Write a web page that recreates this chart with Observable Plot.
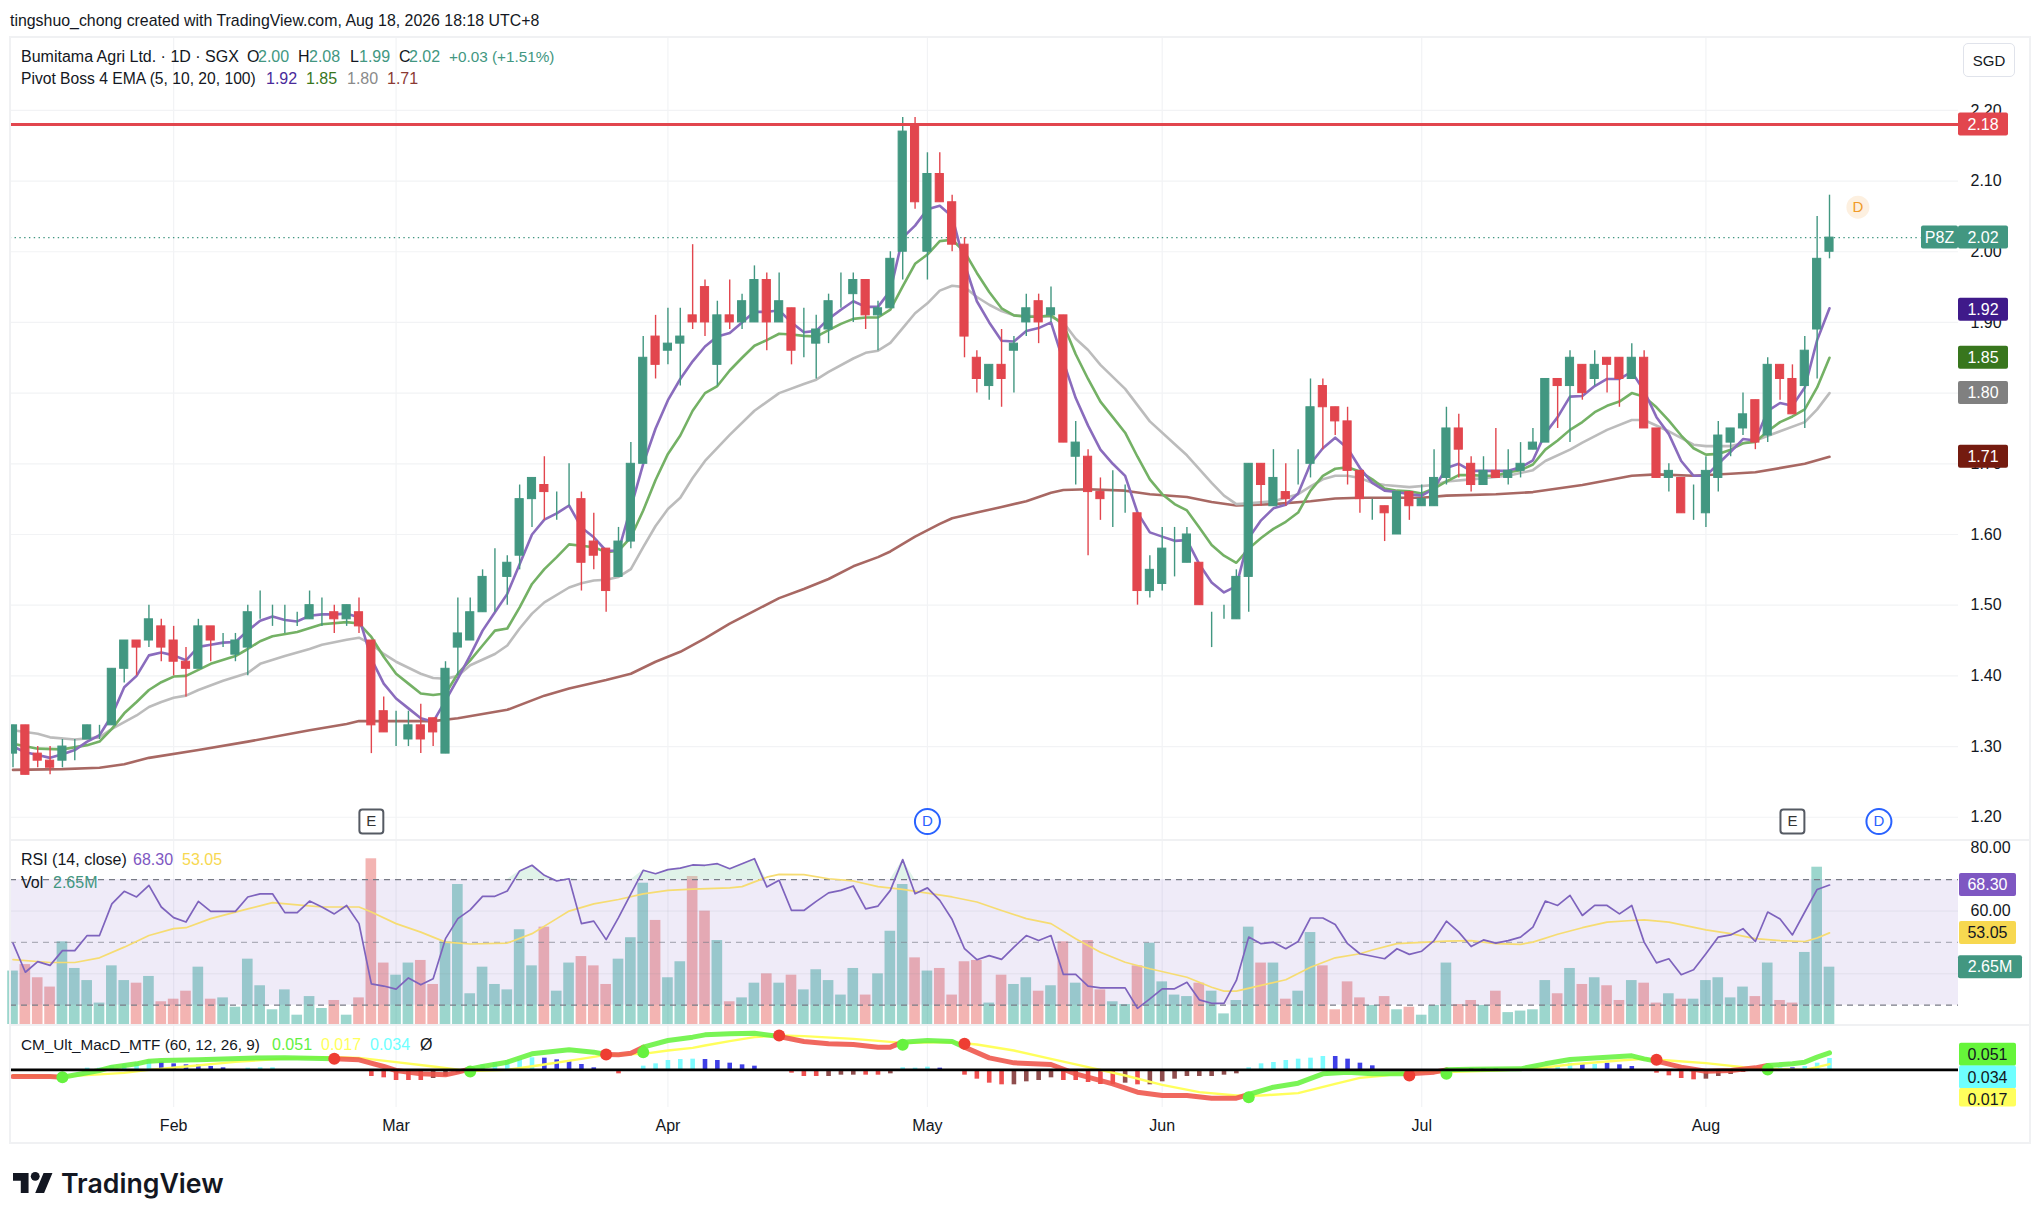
<!DOCTYPE html>
<html><head><meta charset="utf-8">
<script src="https://cdn.jsdelivr.net/npm/d3@7"></script>
<script src="https://cdn.jsdelivr.net/npm/@observablehq/plot@0.6"></script>
<style>
html,body{margin:0;padding:0;background:#fff;width:2042px;height:1214px;overflow:hidden}
body{font-family:"Liberation Sans",Arial,sans-serif;color:#131722;position:relative}
#root{position:absolute;left:0;top:0;width:2042px;height:1214px}
#root svg{position:absolute;left:0;overflow:visible}
.t{position:absolute;font-size:16px;line-height:20px;white-space:nowrap}
.line{position:absolute;background:#f0f1f3}
</style></head><body><div id="root"></div>
<script>
const opens=[1.29,1.33,1.29,1.28,1.28,1.30,1.31,1.33,1.33,1.41,1.45,1.45,1.47,1.45,1.42,1.41,1.47,1.45,1.43,1.44,1.50,1.50,1.47,1.47,1.48,1.49,1.49,1.48,1.49,1.45,1.35,1.31,1.31,1.33,1.34,1.29,1.44,1.45,1.49,1.54,1.54,1.57,1.65,1.67,1.65,1.66,1.65,1.59,1.58,1.54,1.59,1.70,1.88,1.86,1.87,1.91,1.95,1.84,1.91,1.90,1.90,1.96,1.90,1.92,1.86,1.87,1.89,1.94,1.94,1.96,1.91,1.92,2.00,2.18,2.00,2.11,2.07,2.01,1.85,1.81,1.84,1.86,1.90,1.93,1.91,1.91,1.71,1.71,1.66,1.65,1.65,1.63,1.52,1.53,1.58,1.56,1.56,1.48,1.48,1.48,1.54,1.70,1.64,1.66,1.68,1.70,1.81,1.78,1.76,1.69,1.64,1.64,1.60,1.66,1.64,1.64,1.68,1.75,1.70,1.67,1.69,1.68,1.69,1.72,1.73,1.82,1.81,1.84,1.82,1.85,1.85,1.82,1.85,1.75,1.68,1.68,1.64,1.63,1.68,1.73,1.75,1.79,1.74,1.84,1.82,1.81,1.89,2.00];
const highs=[1.33,1.33,1.30,1.30,1.31,1.31,1.33,1.33,1.41,1.45,1.45,1.50,1.48,1.47,1.44,1.48,1.47,1.46,1.46,1.50,1.52,1.50,1.50,1.49,1.52,1.51,1.50,1.50,1.51,1.45,1.37,1.35,1.35,1.36,1.34,1.42,1.51,1.51,1.55,1.58,1.57,1.67,1.68,1.71,1.66,1.70,1.66,1.63,1.58,1.61,1.73,1.88,1.91,1.92,1.92,2.01,1.96,1.93,1.96,1.94,1.98,1.97,1.97,1.92,1.92,1.91,1.94,1.97,1.97,1.96,1.93,2.00,2.19,2.19,2.14,2.14,2.08,2.02,1.86,1.84,1.89,1.88,1.94,1.94,1.95,1.91,1.76,1.72,1.68,1.69,1.67,1.63,1.57,1.61,1.61,1.61,1.56,1.49,1.50,1.55,1.70,1.70,1.72,1.70,1.72,1.82,1.82,1.78,1.78,1.69,1.65,1.64,1.66,1.66,1.67,1.72,1.78,1.77,1.71,1.71,1.75,1.72,1.73,1.75,1.82,1.82,1.86,1.84,1.86,1.85,1.85,1.87,1.86,1.75,1.70,1.68,1.67,1.71,1.76,1.75,1.80,1.79,1.85,1.84,1.84,1.88,2.05,2.08];
const lows=[1.27,1.26,1.27,1.26,1.27,1.28,1.31,1.31,1.33,1.39,1.40,1.44,1.42,1.40,1.37,1.41,1.42,1.44,1.42,1.40,1.48,1.47,1.46,1.47,1.48,1.47,1.46,1.47,1.46,1.29,1.32,1.30,1.30,1.29,1.30,1.29,1.40,1.45,1.49,1.49,1.50,1.55,1.61,1.62,1.62,1.64,1.52,1.55,1.49,1.54,1.58,1.70,1.82,1.84,1.81,1.89,1.88,1.81,1.89,1.89,1.90,1.86,1.90,1.84,1.85,1.82,1.87,1.92,1.90,1.89,1.86,1.92,1.96,2.06,1.96,2.07,2.00,1.85,1.80,1.79,1.78,1.80,1.88,1.87,1.90,1.73,1.67,1.57,1.62,1.61,1.63,1.50,1.51,1.52,1.54,1.56,1.50,1.44,1.48,1.48,1.49,1.64,1.64,1.64,1.67,1.68,1.72,1.74,1.67,1.63,1.62,1.59,1.60,1.62,1.64,1.64,1.67,1.68,1.66,1.67,1.68,1.67,1.68,1.72,1.73,1.75,1.73,1.79,1.81,1.80,1.78,1.82,1.75,1.68,1.66,1.63,1.62,1.61,1.66,1.71,1.74,1.72,1.73,1.79,1.77,1.75,1.82,1.99];
const closes=[1.33,1.26,1.28,1.27,1.30,1.30,1.33,1.33,1.41,1.45,1.44,1.48,1.44,1.42,1.41,1.47,1.45,1.45,1.45,1.49,1.50,1.50,1.47,1.47,1.50,1.49,1.48,1.50,1.47,1.33,1.32,1.31,1.33,1.31,1.32,1.41,1.46,1.49,1.54,1.54,1.56,1.65,1.68,1.66,1.65,1.66,1.56,1.57,1.52,1.59,1.70,1.85,1.84,1.87,1.88,1.90,1.90,1.91,1.90,1.93,1.96,1.90,1.93,1.86,1.86,1.89,1.93,1.94,1.96,1.91,1.92,1.99,2.17,2.07,2.11,2.07,2.01,1.88,1.82,1.84,1.82,1.87,1.92,1.90,1.92,1.73,1.73,1.66,1.65,1.65,1.65,1.52,1.55,1.58,1.58,1.60,1.50,1.48,1.48,1.54,1.70,1.67,1.68,1.65,1.68,1.78,1.78,1.76,1.69,1.65,1.64,1.63,1.66,1.64,1.65,1.68,1.75,1.72,1.67,1.69,1.68,1.69,1.70,1.73,1.82,1.81,1.85,1.80,1.84,1.84,1.82,1.85,1.75,1.68,1.69,1.63,1.64,1.69,1.74,1.75,1.77,1.73,1.84,1.82,1.77,1.86,1.99,2.02];

const ema5=[1.30,1.292,1.288,1.284,1.289,1.295,1.307,1.316,1.344,1.384,1.40,1.429,1.433,1.429,1.422,1.441,1.444,1.447,1.448,1.464,1.478,1.484,1.479,1.477,1.485,1.487,1.487,1.488,1.483,1.424,1.389,1.368,1.354,1.34,1.335,1.365,1.396,1.429,1.464,1.49,1.516,1.558,1.60,1.621,1.63,1.641,1.61,1.596,1.577,1.577,1.638,1.70,1.75,1.79,1.82,1.845,1.866,1.88,1.885,1.90,1.915,1.915,1.917,1.90,1.886,1.888,1.905,1.918,1.93,1.922,1.922,1.945,2.02,2.037,2.06,2.065,2.05,1.983,1.93,1.90,1.874,1.873,1.888,1.892,1.90,1.845,1.793,1.754,1.72,1.70,1.683,1.631,1.603,1.597,1.591,1.592,1.558,1.532,1.518,1.527,1.595,1.62,1.637,1.642,1.658,1.70,1.722,1.737,1.722,1.694,1.673,1.662,1.66,1.657,1.655,1.665,1.694,1.70,1.69,1.69,1.69,1.69,1.695,1.705,1.743,1.766,1.795,1.796,1.81,1.82,1.82,1.83,1.803,1.766,1.742,1.704,1.683,1.683,1.70,1.717,1.735,1.733,1.775,1.786,1.782,1.808,1.875,1.92];
const ema10Idx=[0,2,4,6,7,8,9,10,11,12,13,14,16,18,19,20,21,23,25,27,28,29,30,31,32,33,34,35,36,37,38,39,40,41,42,43,44,45,46,47,48,49,50,51,52,53,54,55,56,57,58,59,60,61,62,63,64,65,66,67,68,69,70,71,72,73,74,75,76,77,78,79,80,81,82,83,84,85,86,87,88,89,90,91,92,93,94,95,96,97,98,99,100,101,102,103,104,105,106,107,108,109,110,111,112,113,114,115,116,117,118,119,120,121,122,123,124,125,126,127,128,129,130,131,132,133,134,135,136,137,138,139,140,141,142,143,144,145,146,147];
const ema10=[1.304,1.297,1.296,1.302,1.307,1.325,1.347,1.363,1.38,1.391,1.399,1.40,1.417,1.428,1.438,1.449,1.456,1.462,1.473,1.476,1.474,1.455,1.427,1.403,1.389,1.375,1.373,1.375,1.403,1.422,1.443,1.464,1.467,1.497,1.53,1.551,1.568,1.586,1.584,1.582,1.575,1.577,1.596,1.634,1.677,1.714,1.74,1.775,1.80,1.81,1.832,1.85,1.867,1.875,1.884,1.883,1.881,1.88,1.889,1.898,1.905,1.907,1.907,1.918,1.951,1.983,1.996,2.015,2.017,2.0,1.97,1.943,1.92,1.91,1.908,1.908,1.91,1.897,1.855,1.82,1.788,1.766,1.744,1.71,1.678,1.657,1.643,1.634,1.61,1.585,1.57,1.56,1.58,1.595,1.608,1.618,1.631,1.662,1.683,1.693,1.695,1.689,1.678,1.665,1.662,1.661,1.658,1.665,1.675,1.684,1.684,1.683,1.683,1.688,1.691,1.699,1.72,1.733,1.748,1.759,1.773,1.782,1.788,1.80,1.795,1.78,1.761,1.74,1.722,1.713,1.714,1.72,1.729,1.731,1.746,1.759,1.767,1.777,1.808,1.85];
const ema20Idx=[0,2,3,5,7,8,10,11,12,13,14,15,17,19,20,22,24,25,27,28,29,30,31,33,34,35,36,37,39,40,41,42,43,45,46,47,48,49,50,51,52,53,54,55,56,58,60,62,64,65,66,68,69,70,71,72,73,74,75,76,77,78,79,80,81,84,85,86,87,88,90,92,94,95,97,98,99,100,102,104,105,106,107,108,109,110,111,113,115,116,118,121,123,124,126,127,129,131,132,134,136,137,139,141,143,145,146,147];
const ema20=[1.323,1.318,1.313,1.31,1.313,1.325,1.344,1.356,1.363,1.369,1.372,1.38,1.393,1.404,1.417,1.428,1.438,1.444,1.451,1.454,1.445,1.431,1.42,1.403,1.397,1.396,1.40,1.415,1.431,1.443,1.467,1.488,1.504,1.525,1.531,1.535,1.536,1.54,1.551,1.582,1.612,1.636,1.652,1.68,1.704,1.741,1.775,1.80,1.813,1.819,1.83,1.849,1.857,1.86,1.871,1.892,1.913,1.927,1.945,1.952,1.95,1.936,1.925,1.916,1.91,1.908,1.90,1.877,1.861,1.84,1.806,1.76,1.728,1.712,1.673,1.655,1.643,1.644,1.647,1.657,1.668,1.678,1.683,1.683,1.68,1.673,1.67,1.667,1.67,1.675,1.678,1.683,1.691,1.704,1.72,1.73,1.748,1.762,1.762,1.746,1.727,1.725,1.725,1.733,1.746,1.759,1.777,1.80];
const ema100Idx=[0,4,7,9,11,15,19,24,27,28,34,36,40,43,45,48,50,52,54,56,58,60,62,64,66,68,70,71,73,75,76,78,80,82,84,85,87,90,92,95,97,99,102,105,107,109,111,114,116,120,123,127,131,133,136,139,141,145,147];
const ema100=[1.267,1.268,1.27,1.275,1.284,1.295,1.307,1.323,1.332,1.336,1.336,1.34,1.352,1.372,1.382,1.394,1.403,1.42,1.434,1.453,1.474,1.492,1.51,1.523,1.537,1.555,1.568,1.576,1.597,1.615,1.623,1.631,1.639,1.647,1.659,1.663,1.664,1.662,1.657,1.653,1.646,1.641,1.643,1.647,1.651,1.652,1.652,1.652,1.655,1.657,1.66,1.67,1.683,1.685,1.683,1.686,1.688,1.70,1.71];

const rsi=[49.8,40.5,43.9,42.7,47.4,47.4,52.2,52.2,62.3,66.3,64.5,68.2,61.3,57.9,56.5,63.1,59.9,59.9,59.9,64.5,65.5,65.5,59.5,59.5,63.2,61.3,59.1,61.8,56.0,36.8,36.1,35.1,38.7,36.5,38.4,51.2,57.6,60.4,64.7,64.7,66.4,72.8,74.6,71.4,69.6,70.3,56.0,56.8,50.9,57.9,65.5,73.0,71.9,73.2,73.7,74.7,74.6,75.1,73.5,75.1,76.7,67.7,69.8,60.2,60.2,63.1,65.8,66.6,68.0,60.7,61.6,66.6,76.4,65.5,67.4,63.4,57.3,48.0,44.5,45.8,44.6,48.5,52.2,50.6,52.2,39.8,39.8,36.1,35.5,35.5,35.5,29.0,32.0,35.2,35.2,37.3,31.7,30.6,30.6,37.9,51.7,49.6,50.1,48.0,50.3,57.8,57.8,55.7,49.6,46.4,45.6,44.8,48.0,46.2,47.2,50.6,56.8,53.3,48.7,50.8,49.8,50.6,51.7,54.9,63.2,61.8,65.0,58.6,61.8,61.8,59.1,61.8,50.1,43.5,44.8,39.7,41.3,46.4,51.7,52.4,54.4,50.3,59.7,57.5,52.4,59.7,66.9,68.3];
const rsiMaIdx=[0,3,5,7,9,11,13,14,16,19,21,23,25,28,29,31,33,35,37,40,42,44,45,47,49,51,53,55,58,59,61,62,64,66,68,70,72,74,76,78,80,82,84,86,88,90,92,95,97,98,99,101,103,105,107,109,110,112,114,116,118,120,122,123,125,127,129,131,132,134,137,139,141,143,145,146,147];
const rsiMa=[44.5,43.6,43.6,45.1,48.5,52.2,54.4,54.7,57.6,60.7,62.7,62,61.3,61.3,59.7,56,53.3,50.1,49.5,49.8,52.8,57.6,60,62.3,63.7,65.5,66.6,67,67.4,67.8,70.8,71.7,71.6,70.3,69.6,67.8,66.9,65.7,64.5,62.9,60.2,57.6,56,51.2,46.9,43.7,41.6,38.9,35.7,34.5,34.5,36.3,38.1,42.1,45.1,46.4,47.6,49.6,50,50.4,50.6,49.6,49.4,50.1,52.6,54.7,56.5,57,57.2,56.5,54,52.8,51.2,50.6,50.3,51.4,53.05];
const volume=[2.47,2.77,2.16,1.73,3.82,2.59,2.03,0.99,2.71,2.03,1.91,2.22,1.05,1.17,1.54,2.65,1.17,1.23,0.80,3.02,1.79,0.68,1.60,0.43,1.29,0.74,1.11,0.43,1.23,7.66,2.84,2.28,2.84,2.96,1.85,3.82,6.47,1.42,2.65,1.85,1.60,4.38,2.71,4.50,1.54,2.84,3.14,2.71,1.85,3.02,4.01,6.53,4.81,2.16,2.90,6.84,5.24,3.88,1.05,1.23,1.91,2.34,1.91,2.28,1.60,2.53,2.03,1.36,2.59,1.36,2.34,4.31,6.47,3.08,2.47,2.59,1.36,2.90,2.96,0.99,2.28,1.85,2.16,1.54,1.79,3.82,1.91,3.88,1.60,1.05,0.92,2.71,3.76,1.97,1.36,1.29,1.91,1.54,0.49,1.11,4.50,2.84,2.84,1.17,1.54,4.25,2.71,0.68,1.97,1.23,0.88,1.29,0.68,0.80,0.43,0.88,2.84,0.92,1.11,0.88,1.54,0.55,0.62,0.68,2.03,1.42,2.59,1.85,2.16,1.79,1.11,2.03,1.91,0.99,1.42,1.17,1.17,2.03,2.16,1.23,1.73,1.29,2.84,1.11,0.99,3.33,7.27,2.65];

const macdIdx=[0,3,4,6,7,8,10,11,12,15,19,22,26,28,30,31,33,35,36,37,38,40,42,45,47,48,49,50,51,53,55,56,58,60,62,64,66,68,70,71,72,74,76,77,79,81,84,86,89,91,93,95,97,99,100,102,104,106,108,110,111,113,115,116,118,122,124,126,129,131,132,133,135,137,139,141,142,144,145,146,147];
const macd=[-0.020,-0.020,-0.022,-0.009,-0.002,0.008,0.018,0.026,0.028,0.030,0.035,0.036,0.033,0.030,0.010,-0.002,-0.012,-0.015,-0.007,0.003,0.010,0.023,0.048,0.060,0.053,0.046,0.045,0.050,0.068,0.088,0.098,0.105,0.108,0.110,0.100,0.085,0.078,0.076,0.068,0.068,0.083,0.088,0.085,0.068,0.036,0.021,0.016,-0.012,-0.042,-0.067,-0.077,-0.077,-0.085,-0.085,-0.074,-0.052,-0.040,-0.012,-0.007,-0.012,-0.012,-0.012,-0.007,0,0.002,0.003,0.018,0.031,0.038,0.042,0.033,0.026,0.008,-0.004,-0.002,0.006,0.013,0.018,0.023,0.038,0.051];
const signalIdx=[0,4,6,9,11,14,18,22,26,28,31,34,37,40,43,46,48,51,53,55,56,58,60,62,64,68,72,76,78,81,84,87,90,93,96,99,101,104,107,109,111,113,116,120,123,126,130,132,134,137,140,142,145,146,147];
const signal=[-0.017,-0.020,-0.016,-0.009,0,0.010,0.024,0.034,0.038,0.036,0.023,0.010,-0.004,0,0.016,0.033,0.045,0.048,0.058,0.066,0.073,0.086,0.098,0.103,0.101,0.093,0.081,0.083,0.076,0.058,0.033,0.008,-0.017,-0.045,-0.067,-0.077,-0.077,-0.070,-0.042,-0.024,-0.017,-0.007,-0.007,-0.002,0.003,0.016,0.028,0.033,0.028,0.020,0.008,0.003,0,0.008,0.017];
const histIdx=[6,7,8,9,10,11,12,13,14,15,16,17,19,20,21,28,29,30,31,32,33,34,35,36,37,38,39,40,41,42,43,44,45,46,47,48,49,51,52,53,54,55,56,57,58,59,60,63,64,65,66,67,68,69,70,71,72,73,74,75,77,78,79,80,81,82,83,84,85,86,87,88,89,90,91,92,93,94,95,96,97,98,99,100,101,102,103,104,105,106,107,108,109,110,113,114,118,119,120,124,125,126,127,128,129,130,131,133,134,135,136,137,138,139,140,141,143,144,145,146,147];
const histVal=[0.005,0.005,0.012,0.016,0.020,0.028,0.023,0.018,0.015,0.015,0.010,0.006,0.005,0.006,0.006,-0.005,-0.020,-0.024,-0.032,-0.032,-0.032,-0.026,-0.020,-0.010,0.006,0.015,0.022,0.028,0.030,0.036,0.035,0.030,0.028,0.016,0.006,-0.005,-0.012,0.011,0.018,0.028,0.031,0.032,0.031,0.028,0.020,0.015,0.011,-0.010,-0.020,-0.020,-0.020,-0.016,-0.016,-0.016,-0.016,-0.012,0.006,0.005,0.008,0.005,-0.016,-0.028,-0.040,-0.045,-0.045,-0.036,-0.032,-0.024,-0.032,-0.032,-0.038,-0.044,-0.045,-0.040,-0.045,-0.045,-0.036,-0.028,-0.020,-0.020,-0.020,-0.016,-0.012,0.006,0.018,0.022,0.028,0.032,0.035,0.040,0.040,0.032,0.020,0.012,-0.005,-0.004,0.004,0.004,0.004,0.006,0.010,0.020,0.018,0.016,0.020,0.015,0.010,-0.010,-0.018,-0.026,-0.030,-0.028,-0.020,-0.014,-0.008,-0.004,0.006,0.006,0.010,0.020,0.034];
const histKind=["cyan","cyan","cyan","cyan","cyan","cyan","blue","blue","blue","blue","blue","blue","cyan","cyan","cyan","red","red","red","red","red","red","maroon","maroon","maroon","cyan","cyan","cyan","cyan","cyan","cyan","blue","blue","blue","blue","blue","red","red","cyan","cyan","cyan","cyan","cyan","blue","blue","blue","blue","blue","red","red","red","maroon","maroon","maroon","red","red","maroon","cyan","cyan","cyan","blue","red","red","red","red","maroon","maroon","maroon","maroon","red","red","red","red","red","maroon","red","maroon","maroon","maroon","maroon","maroon","maroon","maroon","maroon","cyan","cyan","cyan","cyan","cyan","cyan","cyan","blue","blue","blue","blue","red","red","blue","blue","blue","cyan","cyan","cyan","blue","cyan","blue","blue","blue","red","red","red","red","maroon","maroon","maroon","maroon","maroon","cyan","blue","cyan","cyan","cyan"];
const crossIdx=[4,26,37,48,51,62,72,77,100,113,116,133,142];
const crossVal=[-0.022,0.033,-0.005,0.046,0.053,0.103,0.075,0.078,-0.082,-0.017,-0.012,0.030,0.001];
const crossKind=["up","down","up","down","up","down","up","down","up","down","up","down","up"];

const monthIdx=[13,31,53,74,93,114,137];
const monthNames=["Feb","Mar","Apr","May","Jun","Jul","Aug"];
const priceTicks=[1.2,1.3,1.4,1.5,1.6,1.7,1.8,1.9,2.0,2.1,2.2];
const rsiTicks=[60,80];
const rsiLevels=[70,50,30];
const earningsIdx=[29,144];
const dividendIdx=[74,151];
const resistance=[2.18];
const lastPrice=[2.02];

const UP="#429781",DOWN="#e2464e";
const C={ema5:"#8a6cbd",ema10:"#74b165",ema20:"#bcbcbc",ema100:"#a86863",rsi:"#7e63bd",rsiMa:"#f6dc72",
 limeLine:"#66f23f",redLine:"#ee5349",yellow:"#ffff5c"};
const histColor={cyan:"#7dfbff",blue:"#4040e6",red:"#ef4f4f",maroon:"#8f4d4d"};
const FONT='"Liberation Sans",Arial,sans-serif';
const bars=opens.map((o,i)=>({i,o,h:highs[i],l:lows[i],c:closes[i],v:volume[i],r:rsi[i],e5:ema5[i],up:closes[i]>=o}));
const pairs=(a,b)=>a.map((x,k)=>({x,y:b[k]}));

const root=document.getElementById("root");
const W=2042,ML=10,MR=84;
const xScale={type:"linear",domain:[0,147],range:[12.5,1829],axis:null};
const base={width:W,marginLeft:ML,marginRight:MR,marginTop:0,marginBottom:0,x:xScale,style:{background:"transparent",fontFamily:FONT,fontSize:"16px",overflow:"visible"}};

function tags(rows){
  return (index,scales)=>{
    const g=d3.create("svg:g").attr("font-family",FONT).attr("font-size",16);
    for(const r of rows){
      const cy=scales.y(r.at),h=r.h||23;
      g.append("rect").attr("x",r.x).attr("y",cy-h/2).attr("width",r.w).attr("height",h).attr("rx",2).attr("fill",r.fill);
      g.append("text").attr("x",r.x+r.w/2).attr("y",cy+(r.dy||0)).attr("dy","0.35em").attr("text-anchor","middle").attr("fill",r.color||"#fff").text(r.text);
    }
    return g.node();
  };
}
const roundSquare={draw(c,size){const s=Math.sqrt(size)/2,r=3;c.moveTo(-s+r,-s);c.arcTo(s,-s,s,s,r);c.arcTo(s,s,-s,s,r);c.arcTo(-s,s,-s,-s,r);c.arcTo(-s,-s,s,-s,r);c.closePath();}};

function place(svg,top){svg.style.top=top+"px";root.appendChild(svg);}

const grid="#f2f3f5";
place(Plot.plot({...base,height:802,
  y:{type:"linear",domain:[1.1685,2.3031],range:[802,0],axis:null},
  marks:[
    Plot.ruleY(priceTicks,{stroke:grid,strokeWidth:1.2}),
    Plot.ruleX(monthIdx,{stroke:grid,strokeWidth:1.2}),
    Plot.axisY({anchor:"right",ticks:priceTicks,tickFormat:d3.format(".2f"),tickSize:0,tickPadding:12,fontSize:16,fill:"#131722",label:null}),
    Plot.ruleY(lastPrice,{x1:-1,x2:154.4,stroke:UP,strokeDasharray:"1.4 3.4",strokeWidth:1.2,clip:true}),
    Plot.line(pairs(ema100Idx,ema100),{x:"x",y:"y",stroke:C.ema100,strokeWidth:2.6}),
    Plot.line(pairs(ema20Idx,ema20),{x:"x",y:"y",stroke:C.ema20,strokeWidth:2.6}),
    Plot.line(pairs(ema10Idx,ema10),{x:"x",y:"y",stroke:C.ema10,strokeWidth:2.6}),
    Plot.line(bars,{x:"i",y:"e5",stroke:C.ema5,strokeWidth:2.6}),
    Plot.ruleX(bars,{x:"i",y1:"l",y2:"h",stroke:d=>d.up?UP:DOWN,strokeWidth:1.4,clip:true}),
    Plot.rect(bars,{x1:d=>d.i-0.33,x2:d=>d.i+0.33,y1:"o",y2:"c",fill:d=>d.up?UP:DOWN,stroke:d=>d.up?UP:DOWN,strokeWidth:1,clip:true}),
    Plot.ruleY(resistance,{stroke:"#e2464e",strokeWidth:3}),
    Plot.dot(earningsIdx,{x:d=>d,frameAnchor:"bottom",dy:-18,symbol:roundSquare,r:13.5,fill:"#fff",stroke:"#555a63",strokeWidth:2}),
    Plot.text(earningsIdx,{x:d=>d,frameAnchor:"bottom",lineAnchor:"middle",dy:-18,text:()=>"E",fontSize:15,fill:"#333"}),
    Plot.dot(dividendIdx,{x:d=>d,frameAnchor:"bottom",dy:-18,r:12.5,fill:"#fff",stroke:"#2962ff",strokeWidth:2}),
    Plot.text(dividendIdx,{x:d=>d,frameAnchor:"bottom",lineAnchor:"middle",dy:-18,text:()=>"D",fontSize:15,fill:"#2962ff"}),
    Plot.dot([149.3],{x:d=>d,y:()=>2.063,r:11.5,fill:"#fdf0e0"}),
    Plot.text([149.3],{x:d=>d,y:()=>2.063,text:()=>"D",fontSize:15,fill:"#f09a28"}),
    tags([
      {at:2.18,x:1958,w:50,fill:"#e2464e",text:"2.18"},
      {at:2.02,x:1921,w:37,fill:UP,text:"P8Z"},
      {at:2.02,x:1958,w:50,fill:UP,text:"2.02"},
      {at:1.918,x:1958,w:50,fill:"#3f1a8a",text:"1.92"},
      {at:1.85,x:1958,w:50,fill:"#38761d",text:"1.85"},
      {at:1.80,x:1958,w:50,fill:"#808080",text:"1.80"},
      {at:1.71,x:1958,w:50,fill:"#741b0f",text:"1.71"}
    ])
  ]}),37);

place(Plot.plot({...base,height:184,
  y:{type:"linear",domain:[0,8.505],range:[184,0],axis:null},
  marks:[
    Plot.ruleX(monthIdx,{stroke:grid,strokeWidth:1.2}),
    Plot.rect(bars,{x1:d=>d.i-0.43,x2:d=>d.i+0.43,y1:()=>0,y2:"v",fill:d=>d.up?"#089981":"#e2443f",fillOpacity:0.4}),
    tags([{at:2.65,x:1958,w:64,fill:UP,text:"2.65M"}])
  ]}),840);

place(Plot.plot({...base,height:184,
  y:{type:"linear",domain:[23.84,82.5],range:[184,0],axis:null},
  marks:[
    Plot.rect([0],{y1:()=>30,y2:()=>70,fill:"#7e57c2",fillOpacity:0.12}),
    Plot.areaY(bars,{x:"i",y1:()=>70,y2:d=>Math.max(70,d.r),fill:"#a5dcc0",fillOpacity:0.35}),
    Plot.ruleY([60,40],{stroke:"#787b86",strokeOpacity:0.1}),
    Plot.ruleY(rsiLevels,{stroke:"#787b86",strokeDasharray:"6 5",strokeWidth:1.2,strokeOpacity:d=>d===50?0.55:1}),
    Plot.axisY({anchor:"right",ticks:rsiTicks,tickFormat:d3.format(".2f"),tickSize:0,tickPadding:12,fontSize:16,fill:"#131722",label:null}),
    Plot.line(pairs(rsiMaIdx,rsiMa),{x:"x",y:"y",stroke:C.rsiMa,strokeWidth:1.7}),
    Plot.line(bars,{x:"i",y:"r",stroke:C.rsi,strokeWidth:1.7}),
    tags([
      {at:68.3,x:1959,w:57,fill:"#7e57c2",text:"68.30"},
      {at:53.05,x:1959,w:57,fill:"#f7d850",color:"#131722",text:"53.05"}
    ])
  ]}),840);

const macdRows=pairs(macdIdx,macd);
const segs=[];
{const cuts=[0,...crossIdx,147];
 let kind=crossKind[0]==="up"?"down":"up";
 cuts.slice(0,-1).forEach((a,k)=>{
   const b=cuts[k+1];
   macdRows.filter(d=>d.x>=a&&d.x<=b).forEach(d=>segs.push({...d,seg:k,kind}));
   kind=kind==="up"?"down":"up";
 });}
place(Plot.plot({...base,height:119,marginBottom:36,
  y:{type:"linear",domain:[-0.113,0.136],range:[83,0],axis:null},
  marks:[
    Plot.ruleX(monthIdx,{y1:()=>-0.113,y2:()=>0.136,stroke:grid,strokeWidth:1.2}),
    Plot.axisX({ticks:monthIdx,tickFormat:i=>monthNames[monthIdx.indexOf(i)],tickSize:0,tickPadding:12,fontSize:16,fill:"#131722",label:null}),
    Plot.ruleX(histIdx.map((x,k)=>({x,v:histVal[k],kind:histKind[k]})),{x:"x",y1:()=>0,y2:"v",stroke:d=>histColor[d.kind],strokeWidth:4.6}),
    Plot.line(pairs(signalIdx,signal),{x:"x",y:"y",stroke:C.yellow,strokeWidth:2.4}),
    Plot.line(segs,{x:"x",y:"y",z:"seg",stroke:d=>d.kind==="up"?C.limeLine:C.redLine,strokeWidth:5,strokeOpacity:0.88}),
    Plot.dot(crossIdx.map((x,k)=>({x,y:crossVal[k],kind:crossKind[k]})),{x:"x",y:"y",r:6,fill:d=>d.kind==="up"?C.limeLine:"#ee3d33"}),
    Plot.ruleY([0],{stroke:"#000",strokeWidth:2.6}),
    tags([
      {at:0.0455,x:1959,w:57,fill:"#66f53a",color:"#131722",text:"0.051"},
      {at:-0.023,x:1959,w:57,fill:"#6effff",color:"#131722",text:"0.034"},
      {at:-0.084,x:1959,w:57,h:18.5,dy:2,fill:"#ffff5c",color:"#131722",text:"0.017"}
    ])
  ]}),1024);

function box(l,t,w,h,c){const d=document.createElement("div");d.className="line";d.style.cssText=`left:${l}px;top:${t}px;width:${w}px;height:${h}px;`+(c?`background:${c};`:"");root.appendChild(d);}
box(9,36,2021,2);box(9,1142,2021,2);box(9,36,2,1108);box(2029,36,2,1108);box(9,839,2021,1.5);box(9,1024,2021,1.5);

const header="tingshuo_chong created with TradingView.com, Aug 18, 2026 18:18 UTC+8";
const legendTexts=[
 [10,11,header,"#131722",15.9],
 [21,47,"Bumitama Agri Ltd. · 1D · SGX","#131722",16],
 [247,47,"O","#131722",16],[258,47,"2.00",UP,16],[298,47,"H","#131722",16],[309,47,"2.08",UP,16],[350,47,"L","#131722",16],[359,47,"1.99",UP,16],[399,47,"C","#131722",16],[409,47,"2.02",UP,16],[449,47,"+0.03 (+1.51%)",UP,15.3],
 [21,69,"Pivot Boss 4 EMA (5, 10, 20, 100)","#131722",15.65],
 [266,69,"1.92","#4a2a9a",16],[306,69,"1.85","#38761d",16],[347,69,"1.80","#8a8a8a",16],[387,69,"1.71","#8b3a33",16],
 [21,850,"RSI (14, close)","#131722",16],[133,850,"68.30","#7e57c2",16],[182,850,"53.05","#f7d850",16],
 [21,873,"Vol","#131722",16],[53,873,"2.65M",UP,16],
 [21,1035,"CM_Ult_MacD_MTF (60, 12, 26, 9)","#131722",15.3],[272,1035,"0.051","#62f03f",16],[321,1035,"0.017","#ffff5c",16],[370,1035,"0.034","#6effff",16],[420,1035,"Ø","#131722",16]
];
for(const [l,t,s,c,f] of legendTexts){const d=document.createElement("div");d.className="t";d.style.left=l+"px";d.style.top=t+"px";d.style.color=c;d.style.fontSize=f+"px";d.textContent=s;root.appendChild(d);}
const sgd=document.createElement("div");sgd.className="t";sgd.textContent="SGD";
sgd.style.cssText="left:1963px;top:43px;width:52px;height:34px;line-height:34px;text-align:center;border:1px solid #e0e3eb;border-radius:5px;box-sizing:border-box;font-size:15px";root.appendChild(sgd);
const logo=document.createElement("div");
logo.innerHTML='<svg viewBox="0 4 36 18" width="40" height="20" style="position:absolute;left:13px;top:1173px"><path d="M14 22H7V11H0V4h14v18zM28 22h-8l7.5-18h8L28 22z" fill="#131722"/><circle cx="20" cy="7" r="4" fill="#131722"/></svg>';
root.appendChild(logo);
const lt=document.createElement("div");lt.className="t";lt.textContent="TradingView";
lt.style.cssText="left:61px;top:1165px;font-size:26.7px;line-height:36px;font-weight:600;font-family:Inter,Roboto,sans-serif;color:#131722";root.appendChild(lt);
</script></body></html>
